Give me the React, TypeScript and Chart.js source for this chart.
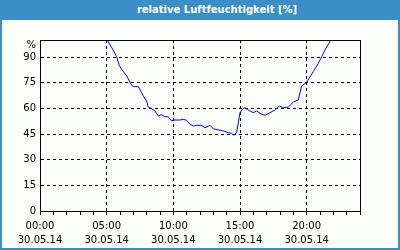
import React, { useEffect, useRef } from "react";
import { Chart, registerables } from "chart.js";

Chart.register(...registerables);

const TITLE = "relative Luftfeuchtigkeit [%]";
const DATE_LABEL = "30.05.14";
const HOURS = [5.0, 5.38, 5.6, 5.75, 5.95, 6.12, 6.5, 6.88, 7.0, 7.37, 7.6, 7.75, 8.0, 8.1, 8.25, 8.62, 8.87, 9.13, 9.37, 9.62, 9.87, 10.0, 10.5, 10.75, 11.0, 11.25, 11.5, 11.75, 12.13, 12.37, 12.75, 13.0, 13.37, 13.75, 14.12, 14.37, 14.5, 14.75, 14.87, 15.0, 15.2, 15.37, 15.55, 15.75, 16.0, 16.25, 16.5, 16.87, 17.25, 17.62, 17.95, 18.2, 18.62, 19.0, 19.37, 19.62, 20.0, 20.5, 20.87, 21.13, 21.37, 21.8, 21.9];
const HUMIDITY = [100.5, 95.5, 92.5, 90.2, 85, 82.9, 79, 73.5, 72.8, 72.7, 69.5, 67.3, 64.3, 61, 60.4, 58.5, 55.6, 56.3, 55.1, 55.1, 52.6, 53.2, 53.2, 53.6, 53, 50.7, 49.7, 50.1, 50.1, 48.7, 50.1, 48.1, 47.4, 46.8, 45.8, 45.4, 44.3, 45.8, 51.6, 57.5, 59.8, 60.4, 59.3, 58.5, 57.5, 58.5, 57.1, 55.9, 57.5, 59.1, 61.4, 60.4, 60.8, 63.7, 64.9, 73.1, 75.3, 81.5, 86.4, 90.2, 94.2, 99.8, 101];
const Y_MAX = 100;
const Y_STEP = 15;
const X_MAX = 24;
const X_LABEL_EVERY = 5;

const FRAME = "#3b8fc7";
const BG = "#fafdfa";

export default function App() {
  const ref = useRef<HTMLCanvasElement | null>(null);

  useEffect(() => {
    document.body.style.margin = "0";
    const boxPlugin = {
      id: "box",
      afterDraw(chart: any) {
        const { ctx, chartArea } = chart;
        ctx.save();
        ctx.strokeStyle = "#000";
        ctx.lineWidth = 1;
        ctx.strokeRect(
          Math.round(chartArea.left) + 0.5,
          Math.round(chartArea.top) + 0.5,
          Math.round(chartArea.right - chartArea.left),
          Math.round(chartArea.bottom - chartArea.top)
        );
        ctx.restore();
      },
    };
    const chart = new Chart(ref.current!, {
      type: "line",
      data: {
        datasets: [
          {
            data: HOURS.map((h, i) => ({ x: h, y: HUMIDITY[i] })),
            borderColor: "#0000ff",
            borderWidth: 1,
            pointRadius: 0,
            tension: 0,
            fill: false,
          },
        ],
      },
      options: {
        animation: false,
        responsive: false,
        maintainAspectRatio: false,
        layout: { padding: { top: 20, right: 38, left: 0, bottom: 0 } },
        plugins: { legend: { display: false }, title: { display: false }, tooltip: { enabled: false } },
        scales: {
          x: {
            type: "linear",
            min: 0,
            max: X_MAX,
            afterFit(scale: any) {
              scale.height = 37;
            },
            ticks: {
              stepSize: 1,
              autoSkip: false,
              maxRotation: 0,
              minRotation: 0,
              padding: 4,
              color: "#000",
              font: { family: "DejaVu Sans", size: 10, lineHeight: 1.4 },
              callback: (v: any) => {
                const n = Number(v);
                if (n % X_LABEL_EVERY !== 0) return "";
                return [String(n).padStart(2, "0") + ":00", DATE_LABEL];
              },
            },
            grid: {
              color: (c: any) => {
                const v = c.tick ? c.tick.value : 0;
                return v % X_LABEL_EVERY === 0 && v > 0 && v < X_MAX ? "#000" : "rgba(0,0,0,0)";
              },
              tickColor: "#000",
              tickLength: 4,
              lineWidth: 1,
            },
            border: { display: true, color: "#000", width: 1, dash: [3, 3] },
          },
          y: {
            min: 0,
            max: Y_MAX,
            afterFit(scale: any) {
              scale.width = 38;
            },
            ticks: {
              stepSize: Y_STEP,
              autoSkip: false,
              padding: 4,
              color: "#000",
              font: { family: "DejaVu Sans", size: 10, lineHeight: 1.1 },
              callback: (v: any) => (Number(v) === Y_MAX ? ["", "%"] : String(v)),
            },
            grid: {
              color: (c: any) => {
                const v = c.tick ? c.tick.value : 0;
                return v > 0 && v < Y_MAX ? "#000" : "rgba(0,0,0,0)";
              },
              drawTicks: false,
              lineWidth: 1,
            },
            border: { display: true, color: "#000", width: 1, dash: [3, 3] },
          },
        },
      },
      plugins: [boxPlugin],
    });
    return () => chart.destroy();
  }, []);

  return (
    <div
      style={{
        position: "absolute",
        left: 0,
        top: 0,
        width: 400,
        height: 250,
        boxSizing: "border-box",
        border: `2px solid ${FRAME}`,
        borderTop: "none",
        background: BG,
      }}
    >
      <div
        style={{
          height: 20,
          background: FRAME,
          color: "#fff",
          fontFamily: "DejaVu Sans",
          fontWeight: "bold",
          fontSize: 10,
          lineHeight: "20px",
          textAlign: "center",
          paddingLeft: 34,
          marginLeft: -2,
          marginRight: -2,
        }}
      >
        {TITLE}
      </div>
      <canvas ref={ref} width={396} height={228} style={{ display: "block" }} />
    </div>
  );
}
